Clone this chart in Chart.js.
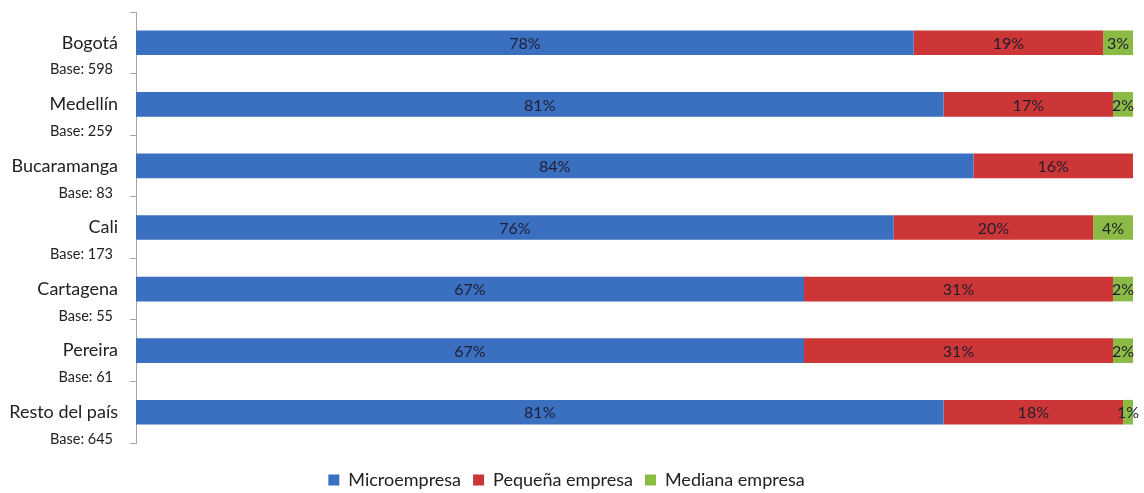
<!DOCTYPE html>
<html>
<head>
<meta charset="utf-8">
<script src="https://cdn.jsdelivr.net/npm/chart.js@4"></script>
<style>
html,body{margin:0;padding:0;background:#fff;}
#wrap{width:1144px;height:493px;position:relative;}
</style>
</head>
<body>
<div id="wrap"><canvas id="c" width="1144" height="493"></canvas></div>
<script>
const categories = ["Bogotá", "Medellín", "Bucaramanga", "Cali", "Cartagena", "Pereira", "Resto del país"];
const baseLabels = ["Base: 598", "Base: 259", "Base: 83", "Base: 173", "Base: 55", "Base: 61", "Base: 645"];
const microempresa = [78, 81, 84, 76, 67, 67, 81];
const pequenaEmpresa = [19, 17, 16, 20, 31, 31, 18];
const medianaEmpresa = [3, 2, 0, 4, 2, 2, 1];
const seriesNames = ["Microempresa", "Pequeña empresa", "Mediana empresa"];
const seriesColors = ["#3b6fc0", "#cc3636", "#8cbb45"];

const FONT = "Lato, 'Open Sans', sans-serif";

const segmentLabels = {
  id: 'segmentLabels',
  afterDatasetsDraw(chart) {
    const ctx = chart.ctx;
    ctx.save();
    ctx.font = "16px " + FONT;
    ctx.fillStyle = "#1e1e30";
    ctx.textAlign = "center";
    ctx.textBaseline = "middle";
    chart.data.datasets.forEach((ds, di) => {
      const meta = chart.getDatasetMeta(di);
      meta.data.forEach((bar, i) => {
        const v = ds.data[i];
        if (!v) return;
        const cx = (bar.x + bar.base) / 2;
        ctx.fillText(v + "%", cx, bar.y + 1);
      });
    });
    ctx.restore();
  }
};

const baseText = {
  id: 'baseText',
  afterDraw(chart) {
    const ctx = chart.ctx;
    const ys = chart.scales.y;
    ctx.save();
    ctx.font = "14.5px " + FONT;
    ctx.fillStyle = "#222";
    ctx.textAlign = "right";
    ctx.textBaseline = "middle";
    baseLabels.forEach((t, i) => {
      const y = ys.getPixelForValue(i) + 27;
      ctx.fillText(t, 113, y);
    });
    ctx.restore();
  }
};

new Chart(document.getElementById('c'), {
  type: 'bar',
  data: {
    labels: categories,
    datasets: [
      { label: seriesNames[0], data: microempresa, backgroundColor: seriesColors[0] },
      { label: seriesNames[1], data: pequenaEmpresa, backgroundColor: seriesColors[1] },
      { label: seriesNames[2], data: medianaEmpresa, backgroundColor: seriesColors[2] }
    ]
  },
  options: {
    indexAxis: 'y',
    responsive: false,
    animation: false,
    devicePixelRatio: 1,
    layout: { padding: { top: 12, right: 11, left: 0, bottom: -6 } },
    datasets: { bar: { categoryPercentage: 1.0, barPercentage: 0.4 } },
    scales: {
      x: {
        stacked: true, min: 0, max: 100, display: true,
        ticks: { display: false }, grid: { display: false }, border: { display: false },
        afterFit(scale) { scale.height = 16; scale.paddingLeft = 0; scale.paddingRight = 0; }
      },
      y: {
        stacked: true,
        afterFit(scale) { scale.width = 136; scale.paddingTop = 0; scale.paddingBottom = 0; },
        border: { display: true, color: '#a6a6a6', width: 1 },
        grid: { drawOnChartArea: false, tickLength: 6, color: '#a6a6a6', offset: true },
        ticks: { font: { size: 18, family: FONT }, color: '#222', padding: 12 }
      }
    },
    plugins: {
      legend: {
        position: 'bottom',
        labels: { font: { size: 18, family: FONT }, color: '#222', boxWidth: 11, boxHeight: 11, padding: 12 }
      },
      tooltip: { enabled: false }
    }
  },
  plugins: [segmentLabels, baseText]
});
</script>
</body>
</html>
